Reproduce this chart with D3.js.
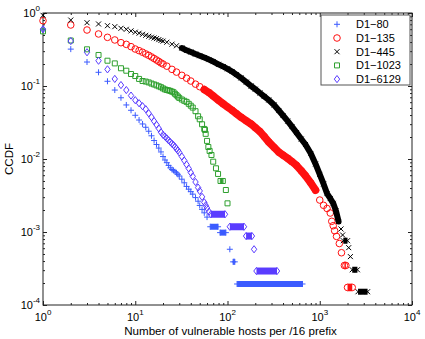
<!DOCTYPE html>
<html>
<head>
<meta charset="utf-8">
<script src="https://cdn.jsdelivr.net/npm/d3@7"></script>
<style>
  body { margin: 0; background: #fff; }
  text { font-family: "Liberation Sans", Arial, sans-serif; fill: #000; }
</style>
</head>
<body>
<svg id="chart" width="425" height="339"></svg>
<script>
// DATA

const names = ["D1\u221280", "D1\u2212135", "D1\u2212445", "D1\u22121023", "D1\u22126129"];
const markers = ["plus", "circle", "cross", "square", "diamond"];
const colors = ["#3b5bff", "#ff1010", "#000000", "#2fa02f", "#5a3cff"];

const xTicks = [1, 10, 100, 1000, 10000];
const xTickExp = ["0", "1", "2", "3", "4"];
const yTicks = [1e-4, 1e-3, 1e-2, 1e-1, 1];
const yTickExp = ["-4", "-3", "-2", "-1", "0"];

// [hosts, ccdf]
const pts80 = [[1,0.6],[2,0.32],[3,0.213],[4,0.154],[5,0.116],[6,0.088],[7,0.069],[8,0.055],[9,0.0465],[10,0.0397],
  [11,0.0342],[12,0.0302],[13,0.0272],[14,0.024],[15,0.0208],[16,0.0179],[17,0.0158],[18,0.0141],[19,0.0125],[20,0.0108],
  [21,0.00969],[22,0.0089],[23,0.00817],[24,0.00757],[25,0.00718],[26,0.00698],[27,0.00668],[28,0.00647],[29,0.00617],[30,0.00585],
  [32,0.00529],[34,0.00472],[36,0.00421],[38,0.00386],[40,0.00357],[42,0.0033],[45,0.00296],[48,0.00264],[50,0.00231],[53,0.00204],
  [56,0.00183],[60,0.0016],[106,0.00058]];
// [from, to, ccdf] flat stretches
const runs80 = [[65,79,0.00118],[83,96,0.00098],[115,120,0.00039],[127,650,0.000194]];

const pts135 = [[1,0.784],[2,0.685],[3,0.585],[4,0.516],[5,0.464],[6,0.427],[7,0.392],[8,0.372],[9,0.346],[10,0.321],
  [11,0.305],[12,0.29],[13,0.275],[14,0.263],[15,0.25],[16,0.238],[17,0.227],[18,0.217],[19,0.207],[20,0.2],
  [22,0.187],[25,0.169],[28,0.155],[32,0.14],[36,0.128],[40,0.117],[45,0.106],[50,0.0978],[56,0.0893],[63,0.0812],
  [70,0.0732],[80,0.0638],[90,0.0569],[100,0.0516],[112,0.0465],[125,0.0418],[140,0.0374],[160,0.0333],[180,0.0302],[200,0.0269],
  [225,0.0237],[250,0.0203],[280,0.0171],[320,0.0144],[360,0.0124],[400,0.0113],[450,0.0102],[500,0.0092],[560,0.00817],[630,0.00691],
  [700,0.00589],[800,0.00469],[900,0.00374],[1000,0.00274],[1100,0.00232],[1200,0.0021],[1300,0.00182],[1350,0.0014],[1400,0.00122],[1450,0.00104],
  [1520,0.00087],[1630,0.000695],[1720,0.00052]];
const runs135 = [[1850,1920,0.000348],[2000,2250,0.000174]];

const pts445 = [[1,0.93],[2,0.8],[3,0.736],[4,0.707],[5,0.67],[6,0.65],[7,0.617],[8,0.598],[9,0.569],[10,0.546],
  [11,0.529],[12,0.511],[13,0.495],[14,0.48],[15,0.466],[16,0.455],[17,0.446],[18,0.432],[19,0.421],[20,0.412],
  [22,0.398],[25,0.374],[28,0.356],[32,0.331],[36,0.308],[40,0.292],[45,0.274],[50,0.26],[56,0.245],[63,0.23],
  [70,0.216],[80,0.198],[90,0.184],[100,0.172],[112,0.158],[125,0.143],[140,0.129],[160,0.113],[180,0.1],[200,0.0904],
  [225,0.0802],[250,0.0721],[280,0.0643],[320,0.055],[360,0.0461],[400,0.0394],[450,0.033],[500,0.0278],[560,0.023],[630,0.0188],
  [700,0.0158],[800,0.0119],[900,0.00855],[1000,0.00615],[1100,0.00455],[1200,0.00336],[1300,0.00288],[1400,0.00247],[1500,0.00194],[1600,0.00139],
  [1700,0.0011],[1770,0.00091],[2060,0.00061],[2150,0.00046]];
const runs445 = [[1800,2000,0.00076],[2250,2560,0.000304],[2600,3300,0.000152]];

const pts1023 = [[1,0.56],[2,0.42],[3,0.318],[4,0.266],[5,0.222],[6,0.204],[7,0.175],[8,0.162],[9,0.146],[10,0.137],
  [11,0.125],[12,0.117],[13,0.115],[14,0.112],[15,0.108],[16,0.105],[17,0.102],[18,0.099],[19,0.0963],[20,0.0927],
  [21,0.0898],[22,0.0881],[23,0.0871],[24,0.0857],[25,0.0838],[26,0.082],[27,0.0782],[28,0.0748],[29,0.0716],[30,0.0687],
  [32,0.0653],[34,0.0627],[36,0.0606],[38,0.057],[40,0.0537],[42,0.0506],[45,0.0452],[48,0.0385],[50,0.035],[53,0.0299],
  [56,0.0258],[57,0.025],[58,0.0221],[60,0.0177],[62,0.0146],[64,0.0129],[67,0.01135],[70,0.00919],[75,0.00746],[79,0.00624],
  [96,0.00376],[100,0.00247]];
const runs1023 = [[84,89,0.005]];

const pts6129 = [[1,0.6],[2,0.413],[3,0.29],[4,0.222],[5,0.169],[6,0.125],[7,0.103],[8,0.088],[9,0.0739],[10,0.064],
  [11,0.0581],[12,0.0529],[13,0.0481],[14,0.0423],[15,0.0374],[16,0.033],[17,0.0295],[18,0.0262],[19,0.0233],[20,0.0214],
  [21,0.0203],[22,0.0191],[23,0.018],[24,0.0171],[25,0.0162],[26,0.0155],[27,0.0147],[28,0.0138],[29,0.0131],[30,0.0123],
  [32,0.0108],[34,0.00953],[36,0.0084],[38,0.00741],[40,0.00652],[42,0.00578],[45,0.00484],[48,0.00406],[50,0.00365],[53,0.00303],
  [56,0.00255],[58,0.00232],[60,0.00213],[63,0.0019],[194,0.00058]];
const runs6129 = [[66,94,0.00175],[106,151,0.00118],[159,184,0.00088],[206,344,0.000292]];

const allPts = [pts80, pts135, pts445, pts1023, pts6129];
const allRuns = [runs80, runs135, runs445, runs1023, runs6129];

// LAYOUT / STYLE

const plotLeft = 43, plotRight = 412, plotTop = 13, plotBottom = 305;
const tickMajor = 4, tickMinor = 2;
// where the markers sit so close together that they merge into one solid band
const solidFrom = [null, 56, 32, null, null];
const solidTo = [null, 900, 1600, null, null];

const svg = d3.select("#chart");

const x = d3.scaleLog().domain([1, 1e4]).range([plotLeft, plotRight]);
const y = d3.scaleLog().domain([1e-4, 1]).range([plotBottom, plotTop]);

// marker outlines, centred on 0,0
function shape(type) {
    if (type === "plus") return "M-3,0H3M0,-3V3";
    if (type === "cross") return "M-2.5,-2.5L2.5,2.5M-2.5,2.5L2.5,-2.5";
    if (type === "square") return "M-2.5,-2.5H2.5V2.5H-2.5Z";
    if (type === "diamond") return "M0,-3.6L2.7,0L0,3.6L-2.7,0Z";
    return "M3.3,0A3.3,3.3 0 1,1 -3.3,0A3.3,3.3 0 1,1 3.3,0Z";
}
// how thick a stretch of overlapping markers looks
const barWidth = { plus: 6, circle: 7.6, cross: 6, square: 6, diamond: 7 };

// ticks (inside, on all four sides)
const minorX = [], minorY = [];
for (let e = 0; e < 4; e++) for (let m = 2; m < 10; m++) { minorX.push(m * 10 ** e); minorY.push(m * 10 ** (e - 4)); }

function tickGroup(axis, tf, vals, len) {
    svg.append("g")
        .attr("transform", tf)
        .attr("color", "#222")
        .call(axis.tickValues(vals).tickSize(-len).tickSizeOuter(0).tickFormat(""))
        .call(g => g.select(".domain").remove());
}
[[xTicks, tickMajor], [minorX, tickMinor]].forEach(([v, l]) => {
    tickGroup(d3.axisBottom(x), `translate(0,${plotBottom})`, v, l);
    tickGroup(d3.axisTop(x), `translate(0,${plotTop})`, v, l);
});
[[yTicks, tickMajor], [minorY, tickMinor]].forEach(([v, l]) => {
    tickGroup(d3.axisLeft(y), `translate(${plotLeft},0)`, v, l);
    tickGroup(d3.axisRight(y), `translate(${plotRight},0)`, v, l);
});

// frame
svg.append("rect")
    .attr("x", plotLeft).attr("y", plotTop)
    .attr("width", plotRight - plotLeft).attr("height", plotBottom - plotTop)
    .attr("fill", "none").attr("stroke", "#222").attr("stroke-width", 1);

// tick labels 10^k
xTicks.forEach((v, i) => {
    const t = svg.append("text")
        .attr("x", x(v)).attr("y", 320.5)
        .attr("text-anchor", "middle")
        .attr("font-size", 11);
    t.append("tspan").text("10");
    t.append("tspan").attr("dy", -6).attr("font-size", 8).text(xTickExp[i]);
});
yTicks.forEach((v, i) => {
    const t = svg.append("text")
        .attr("x", 40).attr("y", y(v) + 4)
        .attr("text-anchor", "end")
        .attr("font-size", 11);
    t.append("tspan").text("10");
    t.append("tspan").attr("dy", -6).attr("font-size", 8).text(yTickExp[i]);
});

// axis titles
svg.append("text")
    .attr("x", 230.5).attr("y", 334.5)
    .attr("text-anchor", "middle")
    .attr("font-size", 11.6)
    .text("Number of vulnerable hosts per /16 prefix");
svg.append("text")
    .attr("transform", `translate(13,159) rotate(-90)`)
    .attr("text-anchor", "middle")
    .attr("font-size", 11.6)
    .text("CCDF");

const band = d3.line().x(d => x(d[0])).y(d => y(d[1]));

// series, drawn in the legend's order (last on top)
names.forEach((name, i) => {
    const g = svg.append("g")
        .attr("stroke", colors[i])
        .attr("fill", "none")
        .attr("stroke-width", 1);

    if (solidFrom[i] !== null) {
        g.append("path")
            .attr("d", band(allPts[i].filter(d => d[0] >= solidFrom[i] && d[0] <= solidTo[i])))
            .attr("stroke-width", barWidth[markers[i]])
            .attr("stroke-linejoin", "round")
            .attr("stroke-linecap", "round");
    }

    g.selectAll("line.run")
        .data(allRuns[i])
        .join("line")
        .attr("class", "run")
        .attr("x1", d => x(d[0])).attr("x2", d => x(d[1]))
        .attr("y1", d => y(d[2])).attr("y2", d => y(d[2]))
        .attr("stroke-width", barWidth[markers[i]]);

    const ends = allRuns[i].flatMap(r => [[r[0], r[2]], [r[1], r[2]]]);
    g.selectAll("path.pt")
        .data(allPts[i].concat(ends))
        .join("path")
        .attr("class", "pt")
        .attr("d", shape(markers[i]))
        .attr("transform", d => `translate(${x(d[0])},${y(d[1])})`);
});

// legend
const legend = svg.append("g");
legend.append("rect")
    .attr("x", 321).attr("y", 15)
    .attr("width", 89).attr("height", 70)
    .attr("fill", "#fff").attr("stroke", "#555").attr("stroke-width", 1);
names.forEach((name, i) => {
    const ly = 24.3 + i * 13.7;
    legend.append("path")
        .attr("d", shape(markers[i]))
        .attr("transform", `translate(337,${ly})`)
        .attr("fill", "none").attr("stroke", colors[i]).attr("stroke-width", 1);
    legend.append("text")
        .attr("x", 356).attr("y", ly + 4)
        .attr("font-size", 11)
        .text(name);
});
</script>
</body>
</html>
